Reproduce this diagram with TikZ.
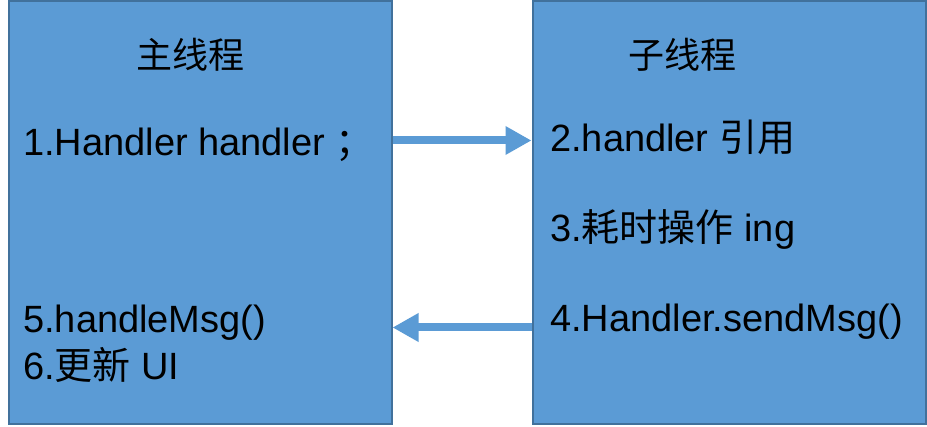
\documentclass[tikz,border=0pt]{standalone}
\usepackage{fontspec}
\setmainfont{Liberation Sans}
\newfontfamily\cjk{Noto Sans CJK SC}
\usetikzlibrary{arrows.meta,positioning}
\definecolor{boxblue}{HTML}{5B9BD5}
\definecolor{boxline}{HTML}{41719C}

\begin{document}
\begin{tikzpicture}[x=1pt,y=1pt,
  thread/.style={draw=boxline,line width=2pt,fill=boxblue,minimum height=423pt,inner sep=0pt},
  msg/.style={draw=boxblue,line width=8pt,-{Triangle[length=26pt,width=27pt]}},
  stepline/.style={anchor=base west,inner sep=0pt,font=\fontsize{38}{40}\selectfont},
  title/.style={anchor=base,inner sep=0pt,font=\fontsize{36}{40}\selectfont\cjk}]

  \useasboundingbox (0,0) rectangle (927,426);

  %threads
  \node[thread,minimum width=383pt] (main) at (200,213.5) {};
  \node[thread,minimum width=393pt] (sub) at (729,213.5) {};

  \node[title] (mainT) at (190,357) {主线程};
  \node[title] (subT) at (682,357) {子线程};

  %steps
  \foreach \x/\y/\txt/\name in {23/270/{1.Handler handler\ {\cjk ；}}/s1,
      550/274/{2.handler {\cjk 引用}}/s2,
      550/184/{3.{\cjk 耗时操作} ing}/s3,
      550/94/{4.Handler.sendMsg()}/s4,
      23/93/{5.handleMsg()}/s5,
      23/46/{6.{\cjk 更新} UI}/s6}{
    \node[stepline] (\name) at (\x,\y) {\txt};
  }

  %messages
  \draw[msg] ([yshift=72pt]main.east) -- ([yshift=72pt]sub.west);
  \draw[msg] ([yshift=-115pt]sub.west) -- ([yshift=-115pt]main.east);

\end{tikzpicture}
\end{document}
